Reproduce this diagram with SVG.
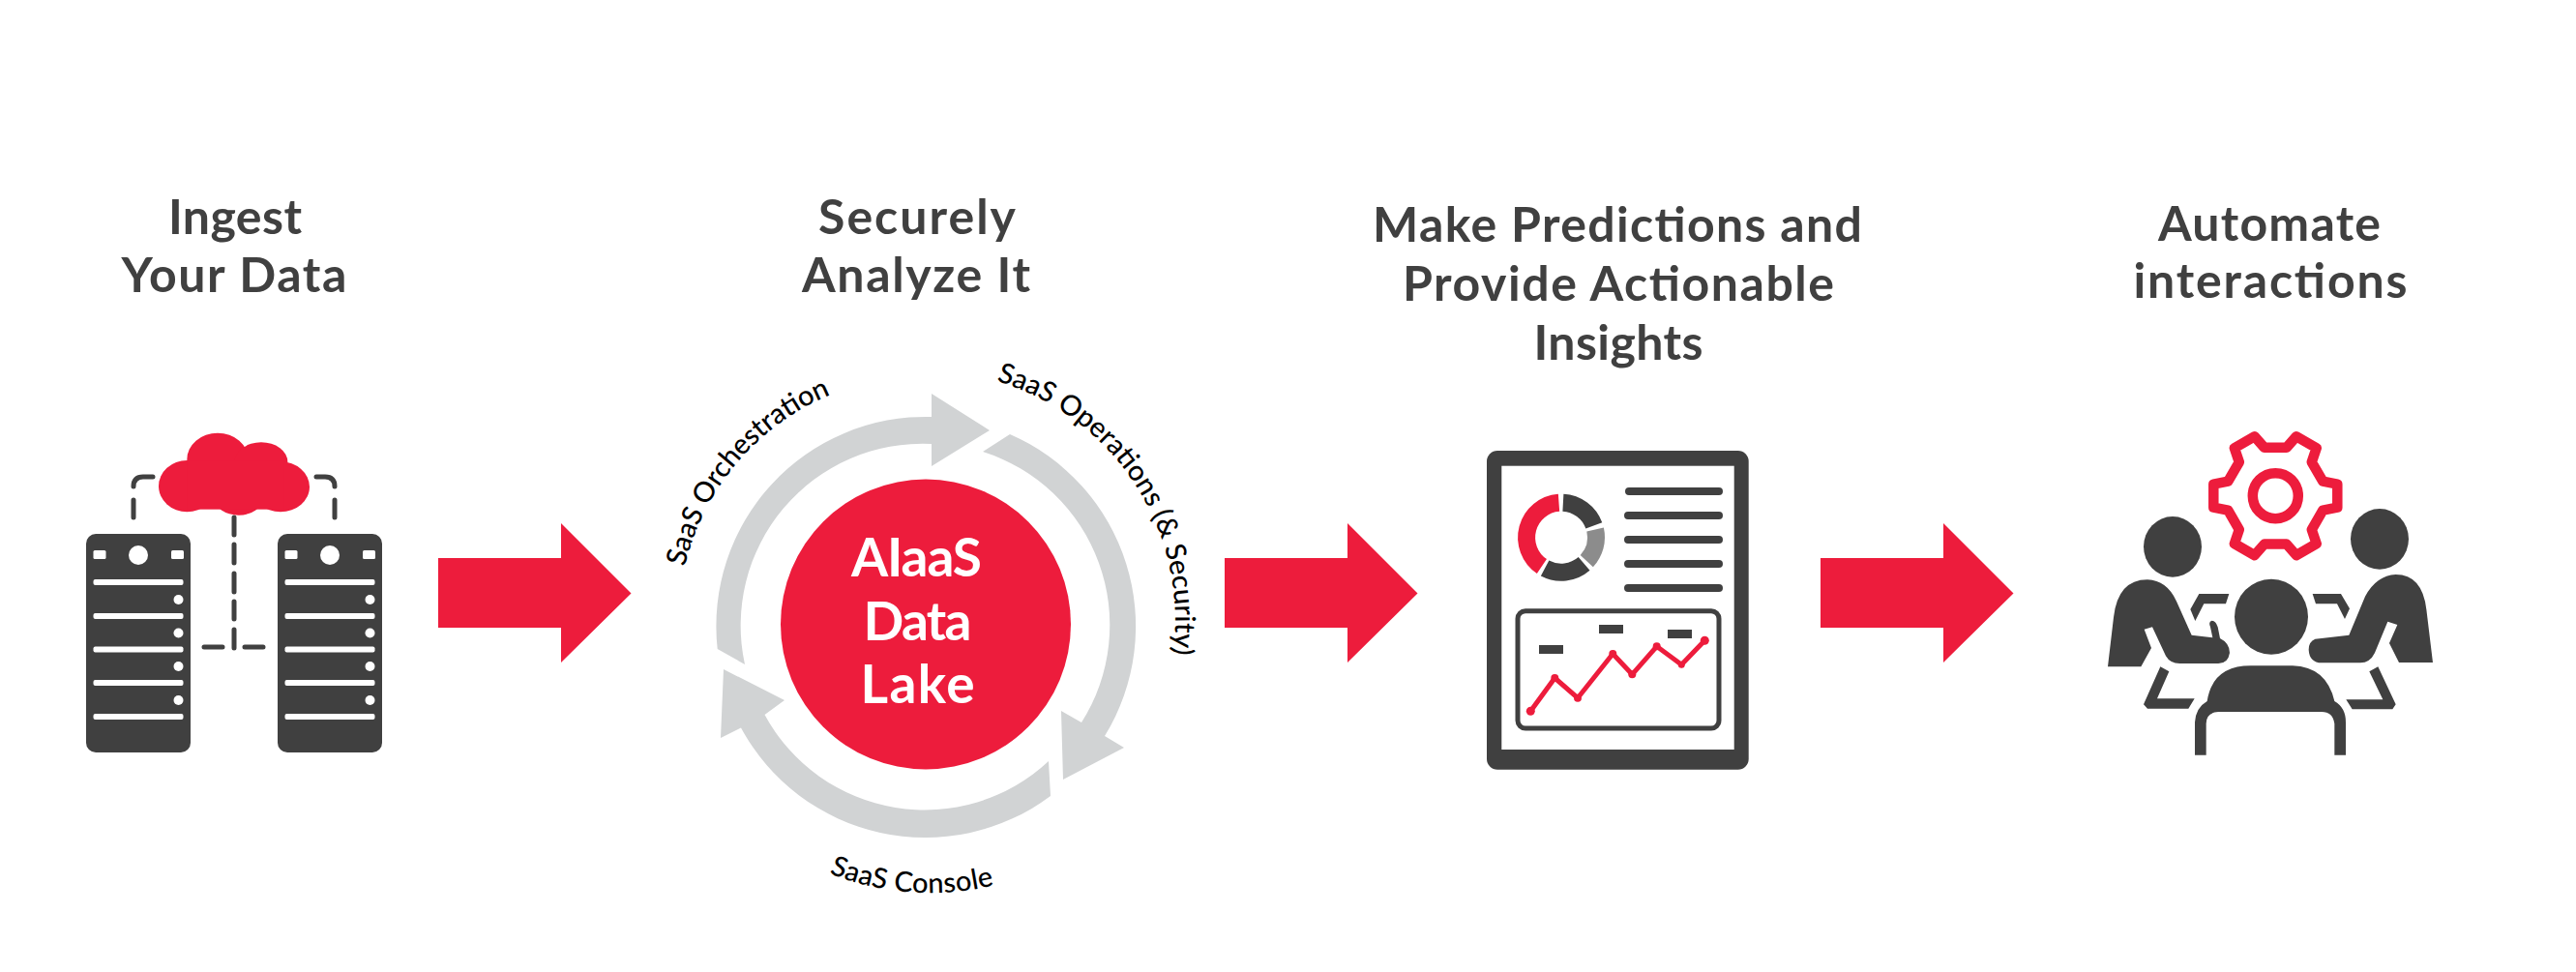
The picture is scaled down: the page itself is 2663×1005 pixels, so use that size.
<svg xmlns="http://www.w3.org/2000/svg" width="2663" height="1005" viewBox="0 0 2663 1005">
<style>
.t{font-family:"Lato","Noto Sans","DejaVu Sans",sans-serif;font-weight:700;font-size:50px;fill:#404040;text-anchor:middle}
.c{font-family:"Lato","Noto Sans","DejaVu Sans",sans-serif;font-weight:700;font-size:55px;fill:#fff;text-anchor:middle}
.l{font-family:"Lato","Noto Sans","DejaVu Sans",sans-serif;font-weight:500;font-size:29px;fill:#000}
.d{fill:#404040}
.r{fill:#ED1C3C}
.g{fill:#D1D3D4}
.w{fill:#fff}
.dash{fill:none;stroke:#404040;stroke-width:5;stroke-linecap:round}
.bar{fill:none;stroke:#404040;stroke-width:8;stroke-linecap:round}
.seg{fill:none;stroke-width:18}
</style>
<defs>
<path id="pOrch" d="M708 586A255 255 0 0 1 864 406"/>
<path id="pOps" d="M1030 394A258 258 0 0 1 1212 680"/>
<path id="pCon" d="M857 903A277 277 0 0 0 1032 914"/>
<g id="server">
<rect x="0" y="0" width="108" height="226" rx="10" class="d"/>
<rect x="7.500" y="17" width="13" height="9" rx="1.500" class="w"/>
<rect x="88" y="17" width="13" height="9" rx="1.500" class="w"/>
<circle cx="54" cy="22" r="10" class="w"/>
<g class="w">
<rect x="7.500" y="47" width="93" height="6" rx="2"/>
<rect x="7.500" y="82" width="93" height="6" rx="2"/>
<rect x="7.500" y="116.500" width="93" height="6" rx="2"/>
<rect x="7.500" y="151" width="93" height="6" rx="2"/>
<rect x="7.500" y="186" width="93" height="6" rx="2"/>
<circle cx="95.500" cy="68" r="5"/>
<circle cx="95.500" cy="102.500" r="5"/>
<circle cx="95.500" cy="137" r="5"/>
<circle cx="95.500" cy="172" r="5"/>
</g>
</g>
</defs>
<rect width="2663" height="1005" fill="#fff"/>

<g id="connectors">
<path class="r" d="M453 577H580V541L652.500 613.500 580 685V649H453Z"/>
<path class="r" d="M1266 577H1393V541L1465.500 613.500 1393 685V649H1266Z"/>
<path class="r" d="M1882 577H2009V541L2081.500 613.500 2009 685V649H1882Z"/>
</g>

<g id="title-ingest">
<text class="t" x="243" y="242" textLength="138">Ingest</text>
<text class="t" x="242" y="301.500" textLength="233">Your Data</text>
</g>
<g id="title-analyze">
<text class="t" x="948" y="242" textLength="204">Securely</text>
<text class="t" x="947" y="301.500" textLength="236">Analyze It</text>
</g>
<g id="title-predict">
<text class="t" x="1672" y="250" textLength="506">Make Predictions and</text>
<text class="t" x="1673" y="311" textLength="446">Provide Actionable</text>
<text class="t" x="1673" y="372" textLength="175">Insights</text>
</g>
<g id="title-automate">
<text class="t" x="2346" y="249" textLength="230">Automate</text>
<text class="t" x="2347" y="308" textLength="283">interactions</text>
</g>

<g id="node-ingest">
<use href="#server" x="89" y="552"/>
<use href="#server" x="287" y="552"/>
<path class="dash" d="M158 493H148Q138 493 138 503M138 517V535M327 493H336Q346 493 346 503M346 517V535M242 535V553M242 563V582M242 593V612M242 622V640M242 651V670M211 669H230M253 669H272"/>
<g transform="translate(60 420) scale(.33333)" class="r">
<ellipse cx="400" cy="248" rx="88" ry="80"/>
<ellipse cx="495" cy="165" rx="95" ry="82"/>
<ellipse cx="630" cy="172" rx="82" ry="60"/>
<ellipse cx="690" cy="250" rx="90" ry="78"/>
<ellipse cx="560" cy="285" rx="75" ry="53"/>
<rect x="400" y="170" width="300" height="150"/>
</g>
</g>

<g id="node-lake">
<path class="g" d="M741.700 671A216.500 216.500 0 0 1 963 431V407L1023 445 963 482V459A188 188 0 0 0 770 687Z"/>
<path class="g" d="M1044 449A216.500 216.500 0 0 1 1142 761L1162 773 1099 806 1097 735 1118 747A188 188 0 0 0 1016 467Z"/>
<path class="g" d="M1086 823A216.500 216.500 0 0 1 766 752.500L745 763 748 692 811 724 790.500 739A188 188 0 0 0 1084 787Z"/>
<circle cx="957" cy="645.500" r="150" class="r"/>
<text class="c" x="947.500" y="596" textLength="135">AIaaS</text>
<text class="c" x="948.500" y="661.500" textLength="112">Data</text>
<text class="c" x="948.500" y="727" textLength="118">Lake</text>
<text class="l"><textPath href="#pOrch" textLength="242">SaaS Orchestration</textPath></text>
<text class="l"><textPath href="#pOps" textLength="366">SaaS Operations (&amp; Security)</textPath></text>
<text class="l"><textPath href="#pCon" textLength="174">SaaS Console</textPath></text>
</g>

<g id="node-insights">
<rect x="1537" y="466" width="270.700" height="329.700" rx="11" class="d"/>
<rect x="1552.300" y="481.700" width="240.400" height="293.300" class="w"/>
<path class="seg" stroke="#ED1C3C" d="M1593.900 585.500A36 36 0 0 1 1611.500 519.800"/>
<path class="seg" stroke="#404040" d="M1615.900 519.700A36 36 0 0 1 1647.800 543.400"/>
<path class="seg" stroke="#8C8C8C" d="M1649.100 547.600A36 36 0 0 1 1640.300 580.200"/>
<path class="seg" stroke="#404040" d="M1637.600 582.900A36 36 0 0 1 1597.100 587.500"/>
<path class="bar" d="M1684 508H1777M1683 533H1777M1683 558H1777M1683 583H1777M1683 608H1777"/>
<rect x="1569" y="631.700" width="208" height="121.300" rx="8" fill="none" stroke="#404040" stroke-width="5"/>
<g class="d">
<rect x="1591" y="667" width="25" height="9"/>
<rect x="1653" y="646" width="25" height="9"/>
<rect x="1724" y="651" width="25" height="9"/>
</g>
<path fill="none" stroke="#ED1C3C" stroke-width="5" d="M1582.300 735.300L1607.300 701 1631 721.700 1667.300 676 1687.300 697.300 1712.700 668.300 1738.300 687.300 1762.300 662.300"/>
<g class="r">
<circle cx="1582.300" cy="735.300" r="4.500"/>
<circle cx="1607.300" cy="701" r="4"/>
<circle cx="1631" cy="721.700" r="4"/>
<circle cx="1667.300" cy="676" r="4"/>
<circle cx="1687.300" cy="697.300" r="4"/>
<circle cx="1712.700" cy="668.300" r="4"/>
<circle cx="1738.300" cy="687.300" r="3.500"/>
<circle cx="1762.300" cy="662.300" r="4.500"/>
</g>
</g>

<g id="node-automate">
<g transform="translate(2352.300 512.700)">
<path fill="none" stroke="#ED1C3C" stroke-width="10.500" stroke-linejoin="round" d="M49 -15L64 -12 64 12 49 15 37.500 34.900 42.400 49.400 21.600 61.400 11.500 49.900 -11.500 49.900 -21.600 61.400 -42.400 49.400 -37.500 34.900 -49 15 -64 12 -64 -12 -49 -15 -37.500 -34.900 -42.400 -49.400 -21.600 -61.400 -11.500 -49.900 11.500 -49.900 21.600 -61.400 42.400 -49.400 37.500 -34.900Z"/>
<circle r="23.500" fill="none" stroke="#ED1C3C" stroke-width="10.500"/>
</g>
<g transform="translate(2170 430) scale(.33333)" class="d">
<ellipse cx="228" cy="406" rx="90" ry="94"/>
<ellipse cx="870" cy="382" rx="90" ry="94"/>
<ellipse cx="534" cy="623" rx="114" ry="117"/>
<path d="M27 778L45 625Q58 508 150 508Q210 510 240 575L287 680 352 688 345 655Q338 638 350 635 362 635 368 655L375 690Q405 705 405 735 400 768 370 768H250Q220 768 207 745L165 655 140 662 162 720 130 778Z"/>
<path d="M1035 765L1015 600Q1002 492 920 492 860 495 825 560L775 680 670 692Q650 700 650 725 652 765 690 766H810Q840 766 855 735L895 638 925 648 900 705 930 765Z"/>
<path d="M335 885Q352 775 470 775H600Q705 778 730 885 765 905 765 950V1052H730V955Q725 918 690 918H370Q332 920 332 955V1052H297V950Q300 905 335 885Z"/>
<path d="M403 552H310L283 600 298 636 325 583H393Z"/>
<path d="M662 552H750L777 598 762 630 738 583H672Z"/>
<path d="M190 778L217 793 180 877H296L277 908H150L138 895Z"/>
<path d="M838 793L865 778 920 895 910 910H785L766 880H880Z"/>
</g>
</g>
</svg>
